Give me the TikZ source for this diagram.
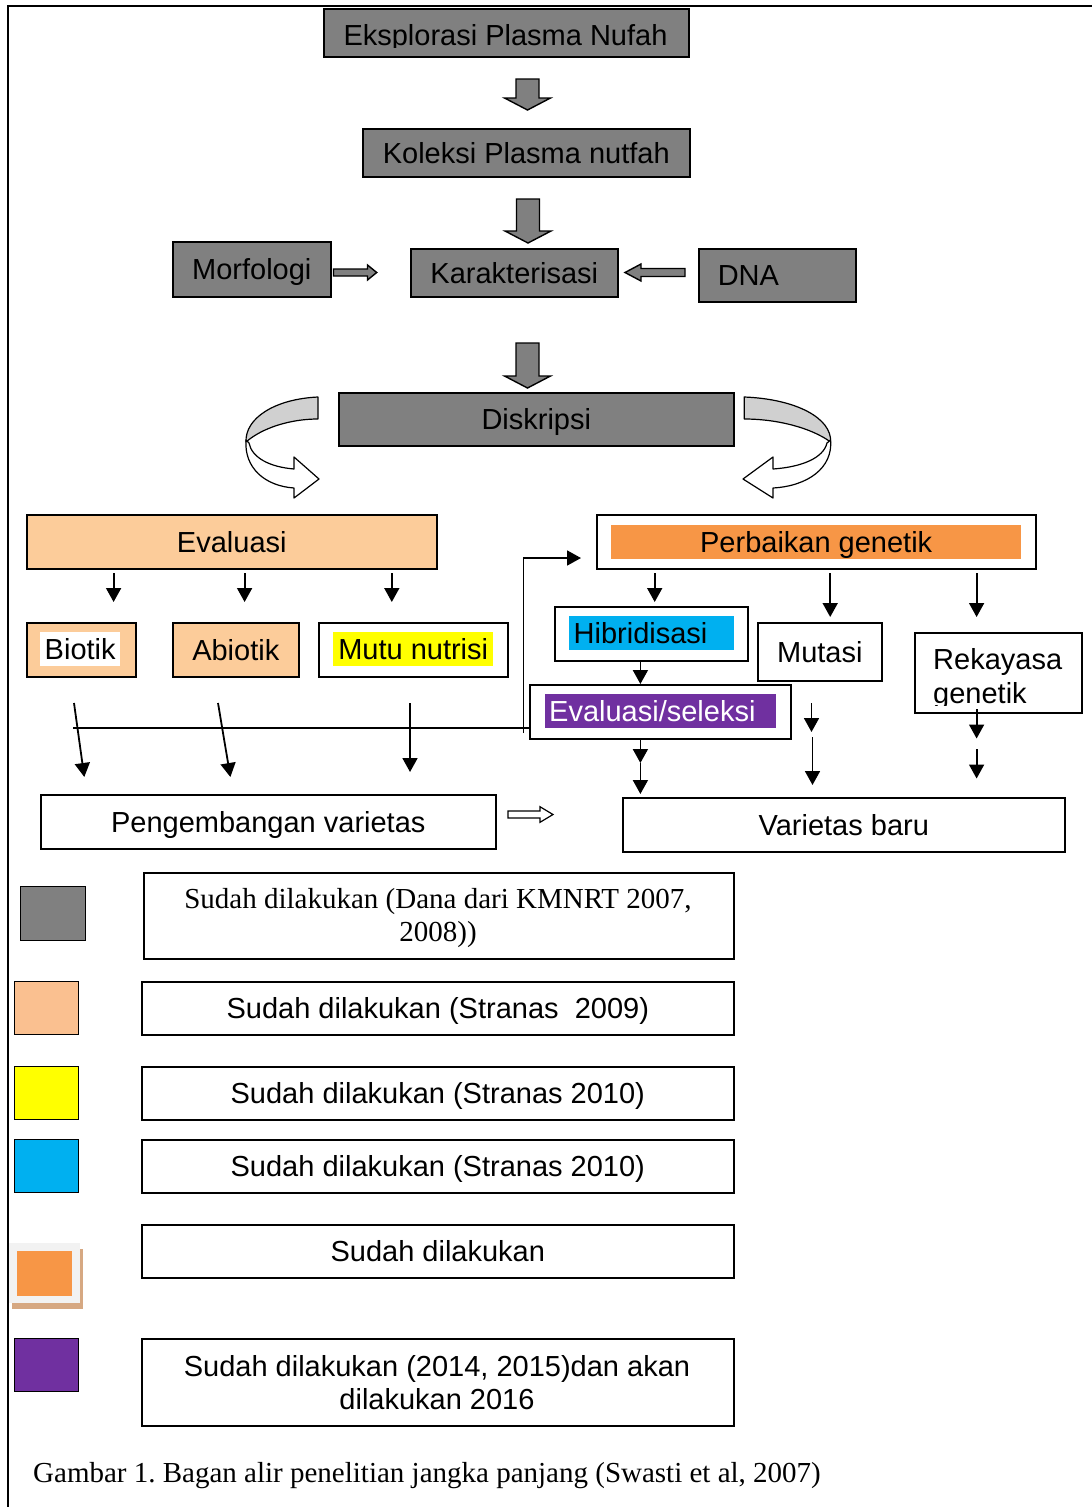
\documentclass[tikz,border=0pt]{standalone}
\usepackage{fontspec}
\setmainfont{Liberation Sans}
\newfontfamily\timesf{Liberation Serif}
\usetikzlibrary{arrows.meta,calc}
\definecolor{grayfill}{RGB}{128,128,128}
\definecolor{peach}{RGB}{252,204,154}
\definecolor{peachsw}{RGB}{250,192,144}
\definecolor{orangeH}{RGB}{247,150,70}
\definecolor{blueH}{RGB}{0,176,240}
\definecolor{purpleH}{RGB}{112,48,160}
\definecolor{yellowH}{RGB}{255,255,0}
\definecolor{ribbongray}{RGB}{208,208,208}
\definecolor{swbg}{RGB}{242,242,242}
\definecolor{swshadow}{RGB}{214,168,130}
\newcommand\mydownblock[3]{\draw[blk] (#1-11.5,#2) -- (#1+11.5,#2) -- (#1+11.5,#3-12) -- (#1+23,#3-12) -- (#1,#3) -- (#1-23,#3-12) -- (#1-11.5,#3-12) -- cycle;}
\frenchspacing
\begin{document}
\begin{tikzpicture}[x=1pt,y=-1pt,
  every node/.style={font=\fontsize{29}{34}\selectfont},
  box/.style={draw, line width=1.6pt, inner sep=0pt, anchor=north west},
  one/.style={text height=21pt, text depth=0pt},
  gbox/.style={box, one, fill=grayfill},
  wbox/.style={box, one, fill=white},
  pbox/.style={box, one, fill=peach},
  hl/.style={inner sep=0pt, anchor=north west, one},
  sw/.style={draw, line width=1.4pt, inner sep=0pt, anchor=north west, minimum width=64pt, minimum height=53pt},
  tnode/.style={font=\timesf\fontsize{29}{34}\selectfont, inner sep=0pt},
  thinarrow/.style={line width=1.8pt, -{Triangle[width=15pt,length=14pt]}},
  plainline/.style={line width=1.8pt},
  blk/.style={draw, line width=1.4pt, fill=grayfill, line join=miter},
  ribbon/.style={draw, line width=1.2pt, line join=round},
]
\useasboundingbox (0,0) rectangle (1092,1507);
\fill[white] (0,0) rectangle (1092,1507);
% frame
\draw[line width=2pt] (8,1507) -- (8,6) -- (1092,6);

% ---- top chain
\node[gbox, minimum width=365pt, minimum height=48pt] (eks) at (323,8) {};
\begin{scope}
  \clip (324,9) rectangle (687,47);
  \node[anchor=base, inner sep=0pt] (ekst) at (505.5,45) {Eksplorasi Plasma Nufah};
\end{scope}
\node[gbox, minimum width=327pt, minimum height=48pt] (kol) at (362,128) {Koleksi Plasma nutfah};
\node[gbox, minimum width=158pt, minimum height=55pt] (mor) at (172,241) {Morfologi};
\node[gbox, minimum width=207pt, minimum height=48pt] (kar) at (410,248) {Karakterisasi};
\node[gbox, minimum width=157pt, minimum height=53pt, text width=119pt, inner xsep=19pt, align=left] (dna) at (698,248) {DNA};
\node[gbox, minimum width=395pt, minimum height=53pt] (dis) at (338,392) {Diskripsi};

\mydownblock{527.5}{79}{110}
\mydownblock{528}{199}{243}
\mydownblock{527.5}{343}{388}
\draw[blk] (333.5,269) -- (367.5,269) -- (367.5,265) -- (376.7,272.5) -- (367.5,280) -- (367.5,276) -- (333.5,276) -- cycle;
\draw[blk] (685,268.5) -- (641,268.5) -- (641,264) -- (625,272.5) -- (641,281) -- (641,276.5) -- (685,276.5) -- cycle;

% ---- curved ribbon arrows
\begin{scope}[shift={(319,397)}]
  \draw[ribbon, fill=ribbongray] (-1,0) .. controls (-44,2) and (-74,21) .. (-73,45) .. controls (-57,31) and (-29,22) .. (-1,22) -- cycle;
  \draw[ribbon, fill=white] (-73,43) .. controls (-75,71) and (-54,89) .. (-25,91) -- (-25,101) -- (0,82) -- (-25,60) -- (-25,72) .. controls (-49,70) and (-67,61) .. (-70,46) -- cycle;
\end{scope}
\begin{scope}[shift={(743,397)}, xscale=-1.2]
  \draw[ribbon, fill=ribbongray] (-1,0) .. controls (-44,2) and (-74,21) .. (-73,45) .. controls (-57,31) and (-29,22) .. (-1,22) -- cycle;
  \draw[ribbon, fill=white] (-73,43) .. controls (-75,71) and (-54,89) .. (-25,91) -- (-25,101) -- (0,82) -- (-25,60) -- (-25,72) .. controls (-49,70) and (-67,61) .. (-70,46) -- cycle;
\end{scope}

% ---- left branch
\node[pbox, minimum width=410pt, minimum height=54pt] (eva) at (26,514) {Evaluasi};
\node[pbox, minimum width=109pt, minimum height=54pt] (bio) at (26,622) {};
\node[hl, fill=white, minimum width=80pt, minimum height=34pt] (biot) at (40,632) {Biotik};
\node[pbox, minimum width=126pt, minimum height=54pt] (abi) at (172,622) {Abiotik};
\node[wbox, minimum width=189pt, minimum height=54pt] (mut) at (318,622) {};
\node[hl, fill=yellowH, minimum width=160pt, minimum height=34pt] (mutt) at (333,632) {Mutu nutrisi};
\node[wbox, minimum width=455pt, minimum height=54pt] (pv) at (40,794) {Pengembangan varietas};

% ---- right branch
\node[wbox, minimum width=439pt, minimum height=54pt] (pg) at (596,514) {};
\node[hl, fill=orangeH, minimum width=410pt, minimum height=34pt] (pgt) at (611,525) {Perbaikan genetik};
\node[wbox, minimum width=193pt, minimum height=54pt] (hib) at (554,606) {};
\node[hl, fill=blueH, minimum width=165pt, minimum height=34pt, inner xsep=4.5pt, text width=156pt, align=left] (hibt) at (569,616) {Hibridisasi};
\node[wbox, minimum width=124pt, minimum height=58pt] (mts) at (757,622) {Mutasi};
\node[box, fill=white, minimum width=167pt, minimum height=80pt] (rek) at (914,632) {};
\begin{scope}
  \clip (915,633) rectangle (1080,705);
  \node[anchor=base west, inner sep=0pt] (rek1) at (933,669) {Rekayasa};
  \node[anchor=base west, inner sep=0pt] (rek2) at (933,703) {genetik};
\end{scope}
\node[wbox, minimum width=261pt, minimum height=54pt] (esl) at (529,684) {};
\node[hl, fill=purpleH, text=white, minimum width=231pt, minimum height=34pt, inner xsep=4.5pt, text width=222pt, align=left] (eslt) at (544.5,694) {Evaluasi/seleksi};
\node[wbox, minimum width=442pt, minimum height=54pt] (vb) at (622,797) {Varietas baru};

% ---- thin arrows
\draw[thinarrow] (113.6,573) -- (113.6,602);
\draw[thinarrow] (244.6,573) -- (244.6,602);
\draw[thinarrow] (391.8,573) -- (391.8,602);
\draw[thinarrow] (654.7,573) -- (654.7,602);
\draw[thinarrow] (830.2,573) -- (830.2,617);
\draw[thinarrow] (976.6,573) -- (976.6,617);
\draw[thinarrow] (640.4,0 |- hib.south) -- (640.4,0 |- esl.north);
\draw[thinarrow] (640.4,0 |- esl.south) -- (640.4,763);
\draw[thinarrow] (640.4,763) -- (640.4,794);
\draw[thinarrow] (811.5,703) -- (811.5,732);
\draw[thinarrow] (812.5,737) -- (812.5,785);
\draw[thinarrow] (976.6,709) -- (976.6,738.5);
\draw[thinarrow] (976.6,749) -- (976.6,778.5);
\draw[thinarrow] (74,703) -- (84.3,777);
\draw[thinarrow] (218,703) -- (230.4,777);
\draw[thinarrow] (410,703) -- (410,772);
\draw[plainline] (73,727.7) -- (esl.west |- 73,727.7);
\draw[thinarrow] (523.4,733) -- (523.4,558) -- (581,558);
% hollow arrow
\draw[line width=1.2pt, fill=white] (508,811) -- (540,811) -- (540,806.7) -- (553,814.5) -- (540,822.3) -- (540,818) -- (508,818) -- cycle;

% ---- legend
\node[sw, fill=grayfill, minimum width=65pt, minimum height=54pt] (sw1) at (20,886) {};
\node[box, fill=white, minimum width=590pt, minimum height=86pt] (lg1) at (143,872) {};
\node[tnode, anchor=base] (lg1a) at (438,908) {Sudah dilakukan (Dana dari KMNRT 2007,};
\node[tnode, anchor=base] (lg1b) at (438,941) {2008))};

\node[sw, fill=peachsw] (sw2) at (14,981) {};
\node[wbox, minimum width=592pt, minimum height=53pt] (lg2) at (141,981) {Sudah dilakukan (Stranas~ 2009)};
\node[sw, fill=yellowH] (sw3) at (14,1066) {};
\node[wbox, minimum width=592pt, minimum height=53pt] (lg3) at (141,1066) {Sudah dilakukan (Stranas 2010)};
\node[sw, fill=blueH] (sw4) at (14,1139) {};
\node[wbox, minimum width=592pt, minimum height=53pt] (lg4) at (141,1139) {Sudah dilakukan (Stranas 2010)};

\fill[swshadow] (12,1249) rectangle (82.5,1309);
\fill[swbg] (8.5,1243) rectangle (80,1303);
\fill[orangeH] (16.7,1251) rectangle (72.3,1296);
\node[wbox, minimum width=592pt, minimum height=53pt] (lg5) at (141,1224) {Sudah dilakukan};

\node[sw, fill=purpleH] (sw6) at (14,1338) {};
\node[box, fill=white, minimum width=592pt, minimum height=87pt] (lg6) at (141,1338) {};
\node[anchor=base, inner sep=0pt] (lg6a) at (437,1376) {Sudah dilakukan (2014, 2015)dan akan};
\node[anchor=base, inner sep=0pt] (lg6b) at (437,1409.5) {dilakukan 2016};

\node[tnode, anchor=base west] (cap) at (33,1482) {Gambar 1. Bagan alir penelitian jangka panjang (Swasti et al, 2007)};
\end{tikzpicture}
\end{document}
